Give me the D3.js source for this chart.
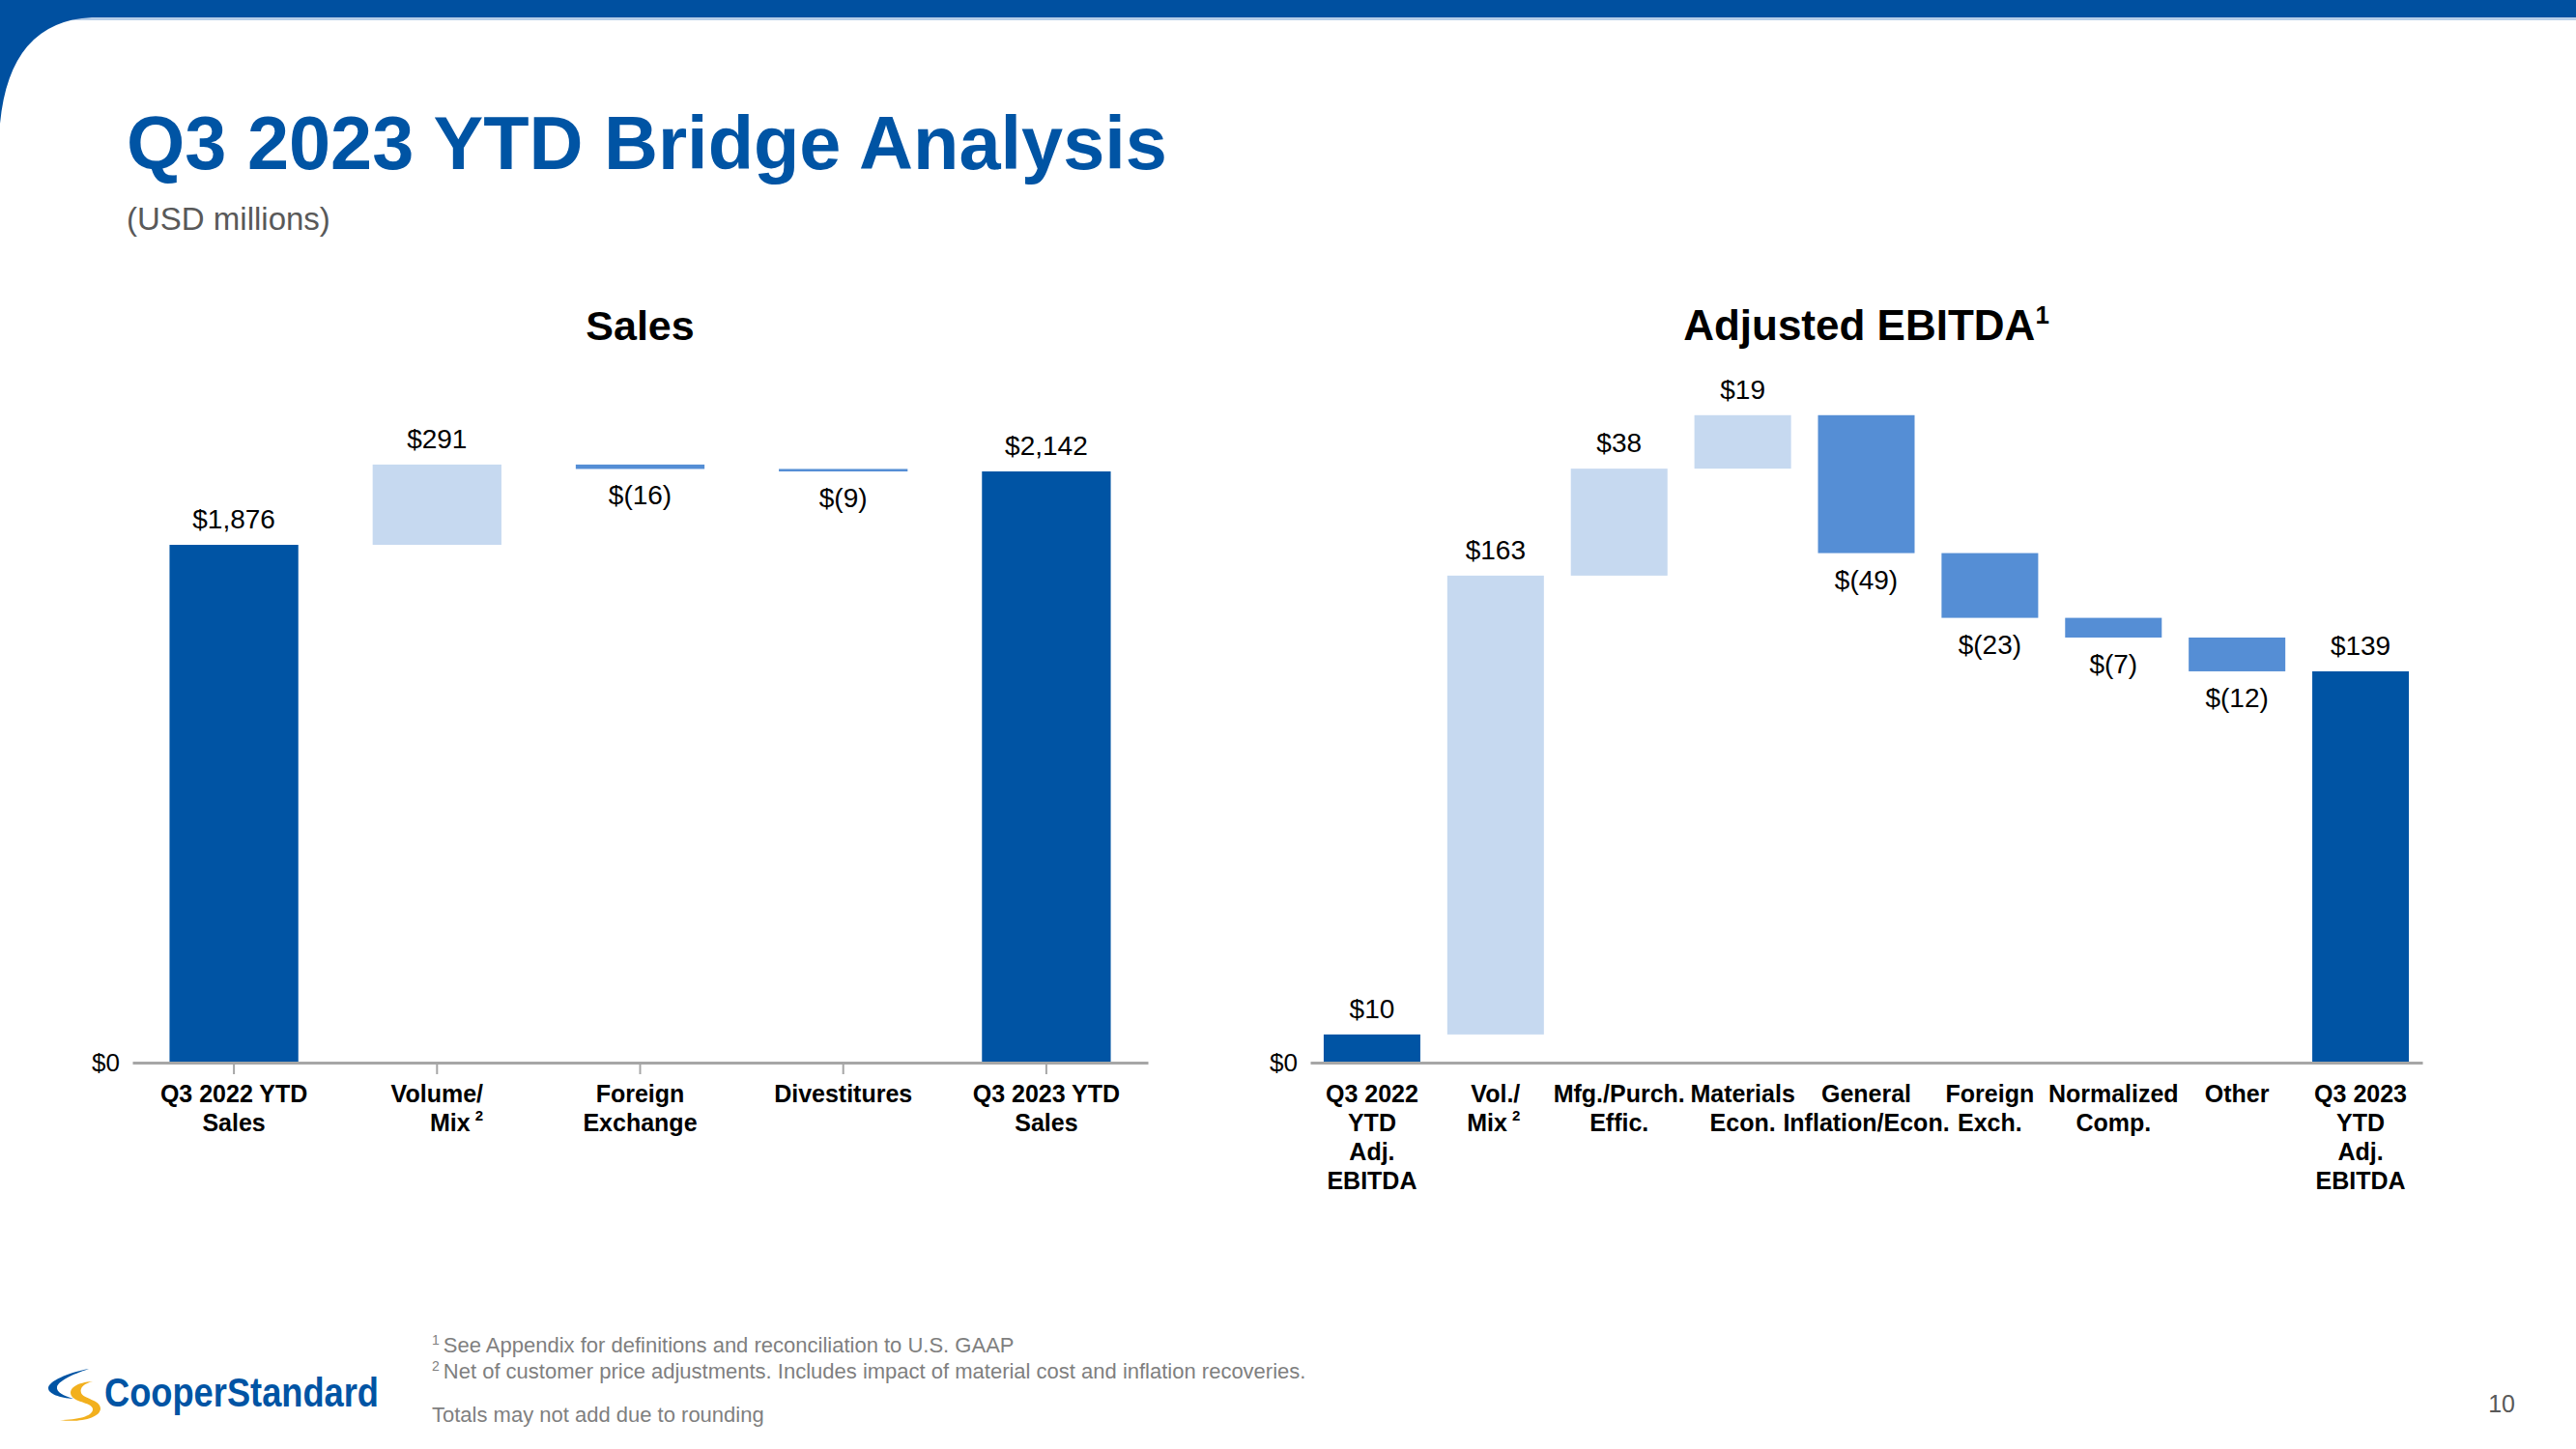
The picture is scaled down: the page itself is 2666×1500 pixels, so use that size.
<!DOCTYPE html>
<html>
<head>
<meta charset="utf-8">
<script src="https://cdn.jsdelivr.net/npm/d3@7"></script>
<style>
  html, body { margin: 0; padding: 0; background: #fff; }
  svg { display: block; font-family: "Liberation Sans", Arial, Helvetica, sans-serif; }
</style>
</head>
<body>
<svg id="chart" width="2666" height="1500"></svg>
<script>
// ---------------- DATA ----------------
const salesCategories = [
  ["Q3 2022 YTD", "Sales"],
  ["Volume/", "Mix^2"],
  ["Foreign", "Exchange"],
  ["Divestitures"],
  ["Q3 2023 YTD", "Sales"]
];
const salesValues = [1876, 291, -16, -9, 2142];
const salesTypes  = ["total", "delta", "delta", "delta", "total"];

const ebitdaCategories = [
  ["Q3 2022", "YTD", "Adj.", "EBITDA"],
  ["Vol./", "Mix^2"],
  ["Mfg./Purch.", "Effic."],
  ["Materials", "Econ."],
  ["General", "Inflation/Econ."],
  ["Foreign", "Exch."],
  ["Normalized", "Comp."],
  ["Other"],
  ["Q3 2023", "YTD", "Adj.", "EBITDA"]
];
const ebitdaValues = [10, 163, 38, 19, -49, -23, -7, -12, 139];
const ebitdaTypes  = ["total", "delta", "delta", "delta", "delta", "delta", "delta", "delta", "total"];

const axisZeroLabel = ["$0"];
const pageTitle = "Q3 2023 YTD Bridge Analysis";
const pageSubtitle = "(USD millions)";
const footnotes = [
  ["1", "See Appendix for definitions and reconciliation to U.S. GAAP"],
  ["2", "Net of customer price adjustments. Includes impact of material cost and inflation recoveries."]
];
const footNote3 = "Totals may not add due to rounding";
const pageNumber = "10";

// ---------------- STYLE ----------------
const C_DARK = "#0054A4", C_LIGHT = "#C6D9F0", C_MED = "#558ED5";
const svg = d3.select("#chart");

// header decoration
svg.append("rect").attr("x", 0).attr("y", 0).attr("width", 2666).attr("height", 18).attr("fill", "#0050A0");
svg.append("rect").attr("x", 60).attr("y", 18).attr("width", 2606).attr("height", 3).attr("fill", "#B7CDE8");
svg.append("path").attr("d", "M0,0 H200 V18 H95 Q10,22 0,128 Z").attr("fill", "#0050A0");

// title
svg.append("text").attr("x", 131).attr("y", 175).attr("font-size", 77.5).attr("font-weight", "bold")
  .attr("fill", "#0054A4").text(pageTitle);
svg.append("text").attr("x", 131).attr("y", 238).attr("font-size", 33)
  .attr("fill", "#595959").text(pageSubtitle);

function fmt(v) {
  return v < 0 ? "$(" + d3.format(",")(-v) + ")" : "$" + d3.format(",")(v);
}

function waterfall(cfg) {
  const { cats, vals, types, x0, x1, yMax, yTop, pIn, ticks, title, titleSup, titleSize } = cfg;
  const baseY = 1100;
  const x = d3.scaleBand().domain(d3.range(cats.length)).range([x0, x1])
    .paddingInner(pIn).paddingOuter(pIn / 2);
  const y = d3.scaleLinear().domain([0, yMax]).range([baseY, yTop]);

  // compute segments
  let run = 0;
  const segs = vals.map((v, i) => {
    let a, b;
    if (types[i] === "total") { a = 0; b = v; run = v; }
    else { a = run; b = run + v; run = b; }
    return { i, v, lo: Math.min(a, b), hi: Math.max(a, b), type: types[i] };
  });

  const g = svg.append("g");

  // title
  const cx = (x0 + x1) / 2;
  const t = g.append("text").attr("x", cx).attr("y", 352).attr("text-anchor", "middle")
    .attr("font-size", titleSize).attr("font-weight", "bold").attr("fill", "#000");
  t.append("tspan").text(title);
  if (titleSup) t.append("tspan").attr("font-size", 26).attr("dy", -17).text(titleSup);

  // bars
  g.selectAll("rect.bar").data(segs).enter().append("rect")
    .attr("x", d => x(d.i)).attr("width", x.bandwidth())
    .attr("y", d => y(d.hi)).attr("height", d => Math.max(1, y(d.lo) - y(d.hi)))
    .attr("fill", d => d.type === "total" ? C_DARK : (d.v >= 0 ? C_LIGHT : C_MED));

  // value labels
  g.selectAll("text.val").data(segs).enter().append("text")
    .attr("x", d => x(d.i) + x.bandwidth() / 2)
    .attr("y", d => (d.type === "delta" && d.v < 0) ? y(d.lo) + 37 : y(d.hi) - 17)
    .attr("text-anchor", "middle").attr("font-size", 28).attr("fill", "#000")
    .text(d => fmt(d.v));

  // x axis
  const ax = g.append("g").attr("transform", `translate(0,${baseY})`)
    .call(d3.axisBottom(x).tickSize(ticks ? 12 : 0).tickSizeOuter(0).tickFormat(""));
  ax.select(".domain").attr("stroke", "#A6A6A6").attr("stroke-width", 3);
  ax.selectAll(".tick line").attr("stroke", "#A6A6A6").attr("stroke-width", 2);

  // y zero label
  const ay = g.append("g").attr("transform", `translate(${x0},0)`)
    .call(d3.axisLeft(y).tickValues([0]).tickSize(0).tickPadding(13).tickFormat(() => axisZeroLabel[0]));
  ay.select(".domain").remove();
  ay.selectAll("text").attr("font-size", 26).attr("fill", "#000").attr("font-family", "Liberation Sans, Arial, sans-serif");

  // category labels
  cats.forEach((lines, i) => {
    const cxi = x(i) + x.bandwidth() / 2;
    let firstRight = null;
    lines.forEach((ln, j) => {
      const yy = 1141 + j * 30;
      const txt = g.append("text").attr("y", yy).attr("font-size", 25).attr("font-weight", "bold").attr("fill", "#000");
      if (ln.includes("^")) {
        const [main, sup] = ln.split("^");
        txt.append("tspan").text(main);
        txt.append("tspan").attr("font-size", 15).attr("dx", 5).attr("dy", -11).text(sup);
        if (firstRight !== null) {
          txt.attr("x", firstRight).attr("text-anchor", "end");
        } else {
          txt.attr("x", cxi).attr("text-anchor", "middle");
        }
      } else {
        txt.attr("x", cxi).attr("text-anchor", "middle").text(ln);
        if (j === 0) firstRight = cxi + txt.node().getComputedTextLength() / 2;
      }
    });
  });
}

waterfall({ cats: salesCategories, vals: salesValues, types: salesTypes,
  x0: 137, x1: 1188, yMax: 2500, yTop: 1100 - 2500 * 0.2857, pIn: 0.366, ticks: true,
  title: "Sales", titleSup: null, titleSize: 43 });

waterfall({ cats: ebitdaCategories, vals: ebitdaValues, types: ebitdaTypes,
  x0: 1356, x1: 2507, yMax: 250, yTop: 1100 - 250 * 2.914, pIn: 0.218, ticks: false,
  title: "Adjusted EBITDA", titleSup: "1", titleSize: 44 });

// footnotes
footnotes.forEach((f, i) => {
  const t = svg.append("text").attr("x", 447).attr("y", 1400 + i * 27).attr("font-size", 22).attr("fill", "#7F7F7F");
  t.append("tspan").attr("font-size", 14).attr("dy", -8).text(f[0]);
  t.append("tspan").attr("dy", 8).attr("dx", 4).text(f[1]);
});
svg.append("text").attr("x", 447).attr("y", 1472).attr("font-size", 22).attr("fill", "#7F7F7F").text(footNote3);

// page number
svg.append("text").attr("x", 2603).attr("y", 1462).attr("text-anchor", "end").attr("font-size", 25)
  .attr("fill", "#595959").text(pageNumber);

// logo
const logo = svg.append("g");
logo.append("path").attr("d", "M92,1417 C70,1421 50,1430 50,1437 C50,1443 62,1447 76,1448 C66,1445 58,1441 59,1436 C60,1430 74,1423 92,1417 Z")
  .attr("fill", "#0054A4");
logo.append("path").attr("d", "M96,1430 C80,1431 70,1437 74,1445 C78,1452 96,1452 96,1459 C96,1466 80,1470 62,1470 C82,1473 104,1468 104,1458 C104,1449 86,1448 84,1442 C82,1436 88,1432 96,1430 Z")
  .attr("fill", "#F2B01E");
logo.append("text").attr("x", 108).attr("y", 1456).attr("font-size", 42).attr("font-weight", "bold")
  .attr("fill", "#0054A4").attr("textLength", 284).attr("lengthAdjust", "spacingAndGlyphs").text("CooperStandard");
</script>
</body>
</html>
